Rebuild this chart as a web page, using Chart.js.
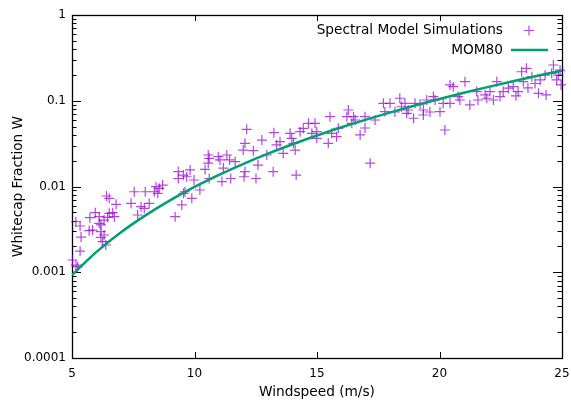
<!DOCTYPE html>
<html>
<head>
<meta charset="utf-8">
<script src="https://cdn.jsdelivr.net/npm/chart.js@4/dist/chart.umd.min.js"></script>
<style>
html, body { margin: 0; padding: 0; background: #fff; }
</style>
</head>
<body>
<canvas id="chart" width="571" height="401"></canvas>
<script>
// spectral model simulations: windspeed (m/s) and whitecap fraction W
const simWind = [
    5.16, 5.33, 5.37, 5.33, 5.02, 5.16, 5.23, 5.73, 5.95, 6.11, 6.11, 6.18, 5.70, 5.84, 6.18, 6.18,
    6.31, 6.25, 6.38, 6.41, 6.52, 6.80, 6.66, 6.52, 6.45, 6.73, 6.31, 7.54, 7.41, 7.68, 7.82, 7.95,
    8.15, 7.99, 8.36, 8.43, 8.56, 8.70, 8.50, 12.13, 12.06, 11.99, 12.40, 12.95, 10.56, 10.60, 10.56, 10.43,
    10.97, 11.04, 11.32, 11.43, 11.66, 11.18, 10.60, 11.12, 11.48, 12.06, 12.02, 12.51, 9.34, 9.34, 9.55, 9.68,
    9.82, 9.98, 9.55, 9.61, 9.89, 9.48, 9.21, 13.24, 13.49, 13.35, 13.62, 13.21, 14.15, 13.90, 13.97, 14.04,
    14.11, 14.31, 14.44, 14.65, 14.92, 14.79, 14.99, 14.99, 15.46, 15.53, 15.60, 15.80, 15.87, 16.28, 16.22, 16.42,
    16.49, 16.56, 16.96, 17.17, 17.37, 17.71, 17.77, 17.98, 18.38, 18.45, 18.59, 18.66, 18.72, 18.94, 19.00, 19.21,
    19.34, 19.34, 19.48, 19.75, 19.82, 20.02, 20.15, 20.43, 20.22, 20.56, 20.76, 21.04, 20.43, 21.52, 21.86, 21.93,
    22.06, 22.20, 22.34, 22.47, 22.60, 22.81, 23.01, 23.21, 23.35, 23.55, 23.42, 23.77, 23.90, 24.04, 24.11, 24.31,
    24.65, 24.58, 24.78, 24.85, 20.83, 21.24, 21.57, 16.96, 16.76, 18.18, 19.61, 23.12, 23.61, 24.35, 24.92, 24.96,
    12.75, 12.59, 10.22
];
const simW = [
    0.00388, 0.00346, 0.00257, 0.00176, 0.00139, 0.00121, 0.00116, 0.00433, 0.00495, 0.00445, 0.00372, 0.00356, 0.00305, 0.0031, 0.00298, 0.00255,
    0.00272, 0.00227, 0.00208, 0.00775, 0.00728, 0.0062, 0.00495, 0.00487, 0.00437, 0.00445, 0.00406, 0.00869, 0.00637, 0.00465, 0.00581, 0.00557,
    0.00637, 0.00869, 0.00869, 0.00994, 0.00953, 0.0104, 0.00832, 0.0464, 0.0319, 0.0266, 0.0262, 0.0233, 0.0233, 0.0213, 0.0187, 0.0158,
    0.0223, 0.0204, 0.0233, 0.0204, 0.0195, 0.0164, 0.0124, 0.0114, 0.0124, 0.0149, 0.013, 0.0124, 0.0149, 0.0124, 0.0136, 0.013,
    0.0156, 0.0119, 0.00832, 0.00869, 0.00728, 0.00609, 0.00445, 0.0424, 0.0333, 0.0305, 0.0244, 0.0149, 0.0136, 0.0417, 0.0365, 0.0319,
    0.0266, 0.0436, 0.0477, 0.0545, 0.0545, 0.0417, 0.0436, 0.0365, 0.0319, 0.0652, 0.0417, 0.0381, 0.0477, 0.078, 0.0652, 0.0545,
    0.0652, 0.0596, 0.0652, 0.0187, 0.0596, 0.0934, 0.0745, 0.0934, 0.107, 0.0851, 0.0934, 0.0713, 0.078, 0.0625, 0.0934, 0.0918,
    0.078, 0.0682, 0.102, 0.112, 0.102, 0.0745, 0.0934, 0.0934, 0.0456, 0.146, 0.112, 0.167, 0.153, 0.128, 0.117, 0.107,
    0.128, 0.102, 0.167, 0.112, 0.128, 0.140, 0.146, 0.128, 0.218, 0.239, 0.167, 0.191, 0.159, 0.122, 0.175, 0.199,
    0.261, 0.209, 0.175, 0.199, 0.102, 0.0893, 0.102, 0.0481, 0.0399, 0.0739, 0.0739, 0.114, 0.141, 0.117, 0.228, 0.153,
    0.0348, 0.0178, 0.0091
];

// MOM80 curve
const momWind = [5, 6, 7, 8, 9, 10, 11, 12, 13, 14, 15, 16, 17, 18, 19, 20, 21, 22, 23, 24, 25];
const momW = [0.00093, 0.00173, 0.00293, 0.00461, 0.00689, 0.00988, 0.01366, 0.01838, 0.02414, 0.0311, 0.03934,
    0.04903, 0.06028, 0.07326, 0.08806, 0.1049, 0.1239, 0.1452, 0.169, 0.1954, 0.2246];

const xTicks = [5, 10, 15, 20, 25];
const yTicks = [0.0001, 0.001, 0.01, 0.1, 1];
const yTickLabels = ["0.0001", "0.001", "0.01", "0.1", "1"];

const purple = "rgba(148, 0, 211, 0.72)";
const green = "#009e73";
const labelFont = { size: 13.7 };

Chart.defaults.font.family = "'DejaVu Sans', Verdana, sans-serif";
Chart.defaults.font.size = 12;
Chart.defaults.color = "#000";

// gnuplot style frame with inward ticks on all four sides
const frame = {
    id: "frame",
    beforeDatasetsDraw(chart) {
        const { ctx, chartArea: a, scales: { x, y } } = chart;
        ctx.save();
        ctx.strokeStyle = "#000";
        ctx.lineWidth = 1;
        ctx.beginPath();
        x.ticks.forEach((t) => {
            const px = Math.round(x.getPixelForValue(t.value)) + 0.5;
            ctx.moveTo(px, a.bottom); ctx.lineTo(px, a.bottom - 6);
            ctx.moveTo(px, a.top); ctx.lineTo(px, a.top + 6);
        });
        yTicks.forEach((v, i) => {
            const py = Math.round(y.getPixelForValue(v)) + 0.5;
            ctx.moveTo(a.left, py); ctx.lineTo(a.left + 9, py);
            ctx.moveTo(a.right, py); ctx.lineTo(a.right - 9, py);
            if (i === yTicks.length - 1) return;
            for (let k = 2; k < 10; k++) {
                const pm = Math.round(y.getPixelForValue(v * k)) + 0.5;
                ctx.moveTo(a.left, pm); ctx.lineTo(a.left + 4.5, pm);
                ctx.moveTo(a.right, pm); ctx.lineTo(a.right - 4.5, pm);
            }
        });
        ctx.stroke();
        ctx.lineWidth = 1.3;
        ctx.strokeRect(a.left + 0.5, a.top + 0.5, a.right - a.left, a.bottom - a.top);
        ctx.restore();
    },
};

// key in the top right corner, text right aligned with sample after it
const key = {
    id: "key",
    afterDraw(chart) {
        const { ctx } = chart;
        const ds = chart.data.datasets;
        ctx.save();
        ctx.font = "13.7px 'DejaVu Sans'";
        ctx.fillStyle = "#000";
        ctx.textAlign = "right";
        ctx.textBaseline = "middle";
        ctx.fillText(ds[0].label, 503, 30);
        ctx.fillText(ds[1].label, 503, 50);
        ctx.strokeStyle = purple;
        ctx.lineWidth = 1.2;
        ctx.beginPath();
        ctx.moveTo(524, 30.5); ctx.lineTo(534, 30.5);
        ctx.moveTo(529, 25.5); ctx.lineTo(529, 35.5);
        ctx.stroke();
        ctx.strokeStyle = green;
        ctx.lineWidth = 2.5;
        ctx.beginPath();
        ctx.moveTo(511, 50); ctx.lineTo(548, 50);
        ctx.stroke();
        ctx.restore();
    },
};

new Chart(document.getElementById("chart"), {
    type: "scatter",
    data: {
        datasets: [
            {
                label: "Spectral Model Simulations",
                data: simWind.map((w, i) => ({ x: w, y: simW[i] })),
                pointStyle: "cross",
                pointRadius: 5,
                borderColor: purple,
                backgroundColor: purple,
                borderWidth: 1.2,
                clip: false,
                order: 1,
            },
            {
                label: "MOM80",
                data: momWind.map((w, i) => ({ x: w, y: momW[i] })),
                showLine: true,
                pointRadius: 0,
                borderColor: green,
                borderWidth: 2.5,
                cubicInterpolationMode: "monotone",
                order: 0,
            },
        ],
    },
    options: {
        responsive: false,
        animation: false,
        devicePixelRatio: 1,
        layout: { padding: { top: 15, right: 9, left: 0, bottom: 0 } },
        plugins: { legend: { display: false }, tooltip: { enabled: false } },
        scales: {
            x: {
                type: "linear",
                min: 5,
                max: 25,
                afterBuildTicks: (s) => { s.ticks = xTicks.map((v) => ({ value: v })); },
                afterFit: (s) => { s.height = 43; s.paddingLeft = 0; s.paddingRight = 0; },
                grid: { display: false, drawTicks: false },
                border: { display: false },
                ticks: { padding: 9, maxRotation: 0 },
                title: { display: true, text: "Windspeed (m/s)", font: labelFont, padding: { top: 0, bottom: 0 } },
            },
            y: {
                type: "logarithmic",
                min: 0.0001,
                max: 1,
                afterBuildTicks: (s) => { s.ticks = yTicks.map((v) => ({ value: v })); },
                afterFit: (s) => { s.width = 72; },
                grid: { display: false, drawTicks: false },
                border: { display: false },
                ticks: {
                    padding: 6,
                    autoSkip: false,
                    callback: (v, i) => yTickLabels[i],
                },
                title: { display: true, text: "Whitecap Fraction W", font: labelFont, padding: { top: 10, bottom: 0 } },
            },
        },
    },
    plugins: [frame, key],
});
</script>
</body>
</html>
